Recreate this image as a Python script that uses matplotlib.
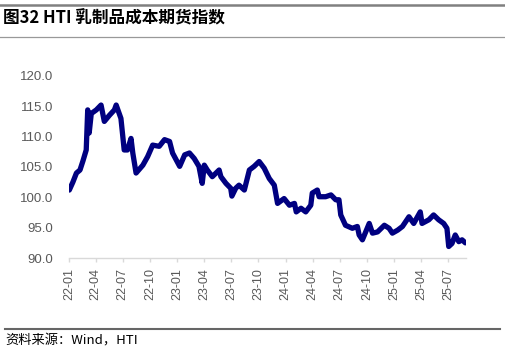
import matplotlib
matplotlib.use("Agg")
import matplotlib.pyplot as plt
from matplotlib.lines import Line2D
import pandas as pd

plt.rcParams['font.family'] = ['Liberation Sans', 'Noto Sans CJK SC', 'DejaVu Sans']

# HTI 乳制品成本期货指数
dates = [
    "2022-01-02", "2022-01-14", "2022-01-26", "2022-02-07", "2022-02-17", "2022-02-28",
    "2022-03-05", "2022-03-10", "2022-03-17", "2022-04-03", "2022-04-19", "2022-04-30",
    "2022-05-17", "2022-06-03", "2022-06-09", "2022-06-25", "2022-07-06", "2022-07-17",
    "2022-07-29", "2022-08-04", "2022-08-15", "2022-09-07", "2022-09-23", "2022-10-10",
    "2022-11-01", "2022-11-19", "2022-12-06", "2022-12-16", "2023-01-09", "2023-01-26",
    "2023-02-11", "2023-02-27", "2023-03-15", "2023-03-26", "2023-04-02", "2023-04-12",
    "2023-04-29", "2023-05-22", "2023-05-28", "2023-06-14", "2023-06-30", "2023-07-04",
    "2023-07-17", "2023-07-28", "2023-08-15", "2023-09-01", "2023-09-17", "2023-10-04",
    "2023-10-21", "2023-11-07", "2023-11-24", "2023-12-05", "2023-12-27", "2024-01-14",
    "2024-01-31", "2024-02-06", "2024-02-22", "2024-03-09", "2024-03-26", "2024-03-31",
    "2024-04-17", "2024-04-23", "2024-05-15", "2024-06-02", "2024-06-18", "2024-06-29",
    "2024-07-05", "2024-07-21", "2024-08-13", "2024-08-30", "2024-09-05", "2024-09-16",
    "2024-10-09", "2024-10-20", "2024-11-06", "2024-11-29", "2024-12-15", "2024-12-26",
    "2025-01-13", "2025-01-29", "2025-02-20", "2025-03-08", "2025-03-30", "2025-04-05",
    "2025-04-28", "2025-05-14", "2025-05-31", "2025-06-17", "2025-06-28", "2025-07-04",
    "2025-07-15", "2025-07-26", "2025-08-07", "2025-08-18", "2025-08-29",
]
index_values = [
    101.2, 102.5, 104.0, 104.5, 106.0, 107.8,
    114.4, 110.6, 113.8, 114.4, 115.2, 112.5,
    113.5, 114.4, 115.2, 113.0, 107.8, 107.8,
    109.7, 107.3, 104.0, 105.3, 106.7, 108.6,
    108.4, 109.5, 109.2, 107.3, 105.1, 107.0,
    107.3, 106.4, 105.1, 102.3, 105.3, 104.5,
    103.4, 104.5, 103.4, 102.3, 101.5, 100.2,
    101.5, 102.0, 101.2, 104.5, 105.1, 105.9,
    104.8, 103.1, 102.0, 99.0, 99.8, 98.7,
    99.0, 97.6, 98.2, 97.6, 98.7, 100.7,
    101.2, 100.1, 100.1, 100.4, 99.6, 99.6,
    97.1, 95.4, 94.9, 95.2, 93.8, 93.0,
    95.7, 94.1, 94.3, 95.4, 94.9, 94.1,
    94.6, 95.2, 96.8, 95.7, 97.6, 95.7,
    96.3, 97.1, 96.3, 95.7, 94.9, 91.9,
    92.4, 93.8, 92.7, 93.0, 92.5,
]
tick_dates = pd.date_range("2022-01-01", "2025-07-01", freq="3MS")
y_ticks = [90, 95, 100, 105, 110, 115, 120]

x = pd.to_datetime(dates)

fig = plt.figure(figsize=(5.06, 3.53), dpi=100)
ax = fig.add_axes([0.1364, 0.269, 0.785, 0.516])

ax.plot(x, index_values, color="#000080", lw=3.8, solid_joinstyle="round", solid_capstyle="round")

ax.set_ylim(90, 120)
ax.set_yticks(y_ticks)
ax.set_yticklabels([f"{v:.1f}" for v in y_ticks])
ax.set_xlim(pd.Timestamp("2022-01-01"), pd.Timestamp("2025-09-01"))
ax.set_xticks(tick_dates)
ax.set_xticklabels([d.strftime("%y-%m") for d in tick_dates], rotation=90)

for s in ["top", "right", "left"]:
    ax.spines[s].set_visible(False)
ax.spines["bottom"].set_color("#d9d9d9")
ax.spines["bottom"].set_linewidth(1.0)
ax.tick_params(axis="y", length=0, pad=11.5, labelsize=9.5, labelcolor="#595959")
ax.tick_params(axis="x", length=3, width=1, color="#d9d9d9", direction="out",
               pad=4, labelsize=9, labelcolor="#595959")

# 标题与分隔线
fig.add_artist(Line2D([0, 1], [1 - 5 / 353, 1 - 5 / 353], color="#808080", lw=1.8))
fig.text(3 / 506, 1 - 18 / 353, "图32 HTI 乳制品成本期货指数", fontsize=12, fontweight="bold",
         ha="left", va="center", family=["Noto Sans CJK SC", "DejaVu Sans"])
fig.add_artist(Line2D([0, 1], [1 - 37 / 353, 1 - 37 / 353], color="#999999", lw=0.9))

fig.add_artist(Line2D([5 / 506, 500 / 506], [1 - 329 / 353, 1 - 329 / 353], color="#666666", lw=1.5))
fig.text(5 / 506, 1 - 341 / 353, "资料来源：Wind，HTI", fontsize=9.5, ha="left", va="center",
         family=["Noto Sans CJK SC", "DejaVu Sans"])

fig.savefig("out.png", dpi=100)
